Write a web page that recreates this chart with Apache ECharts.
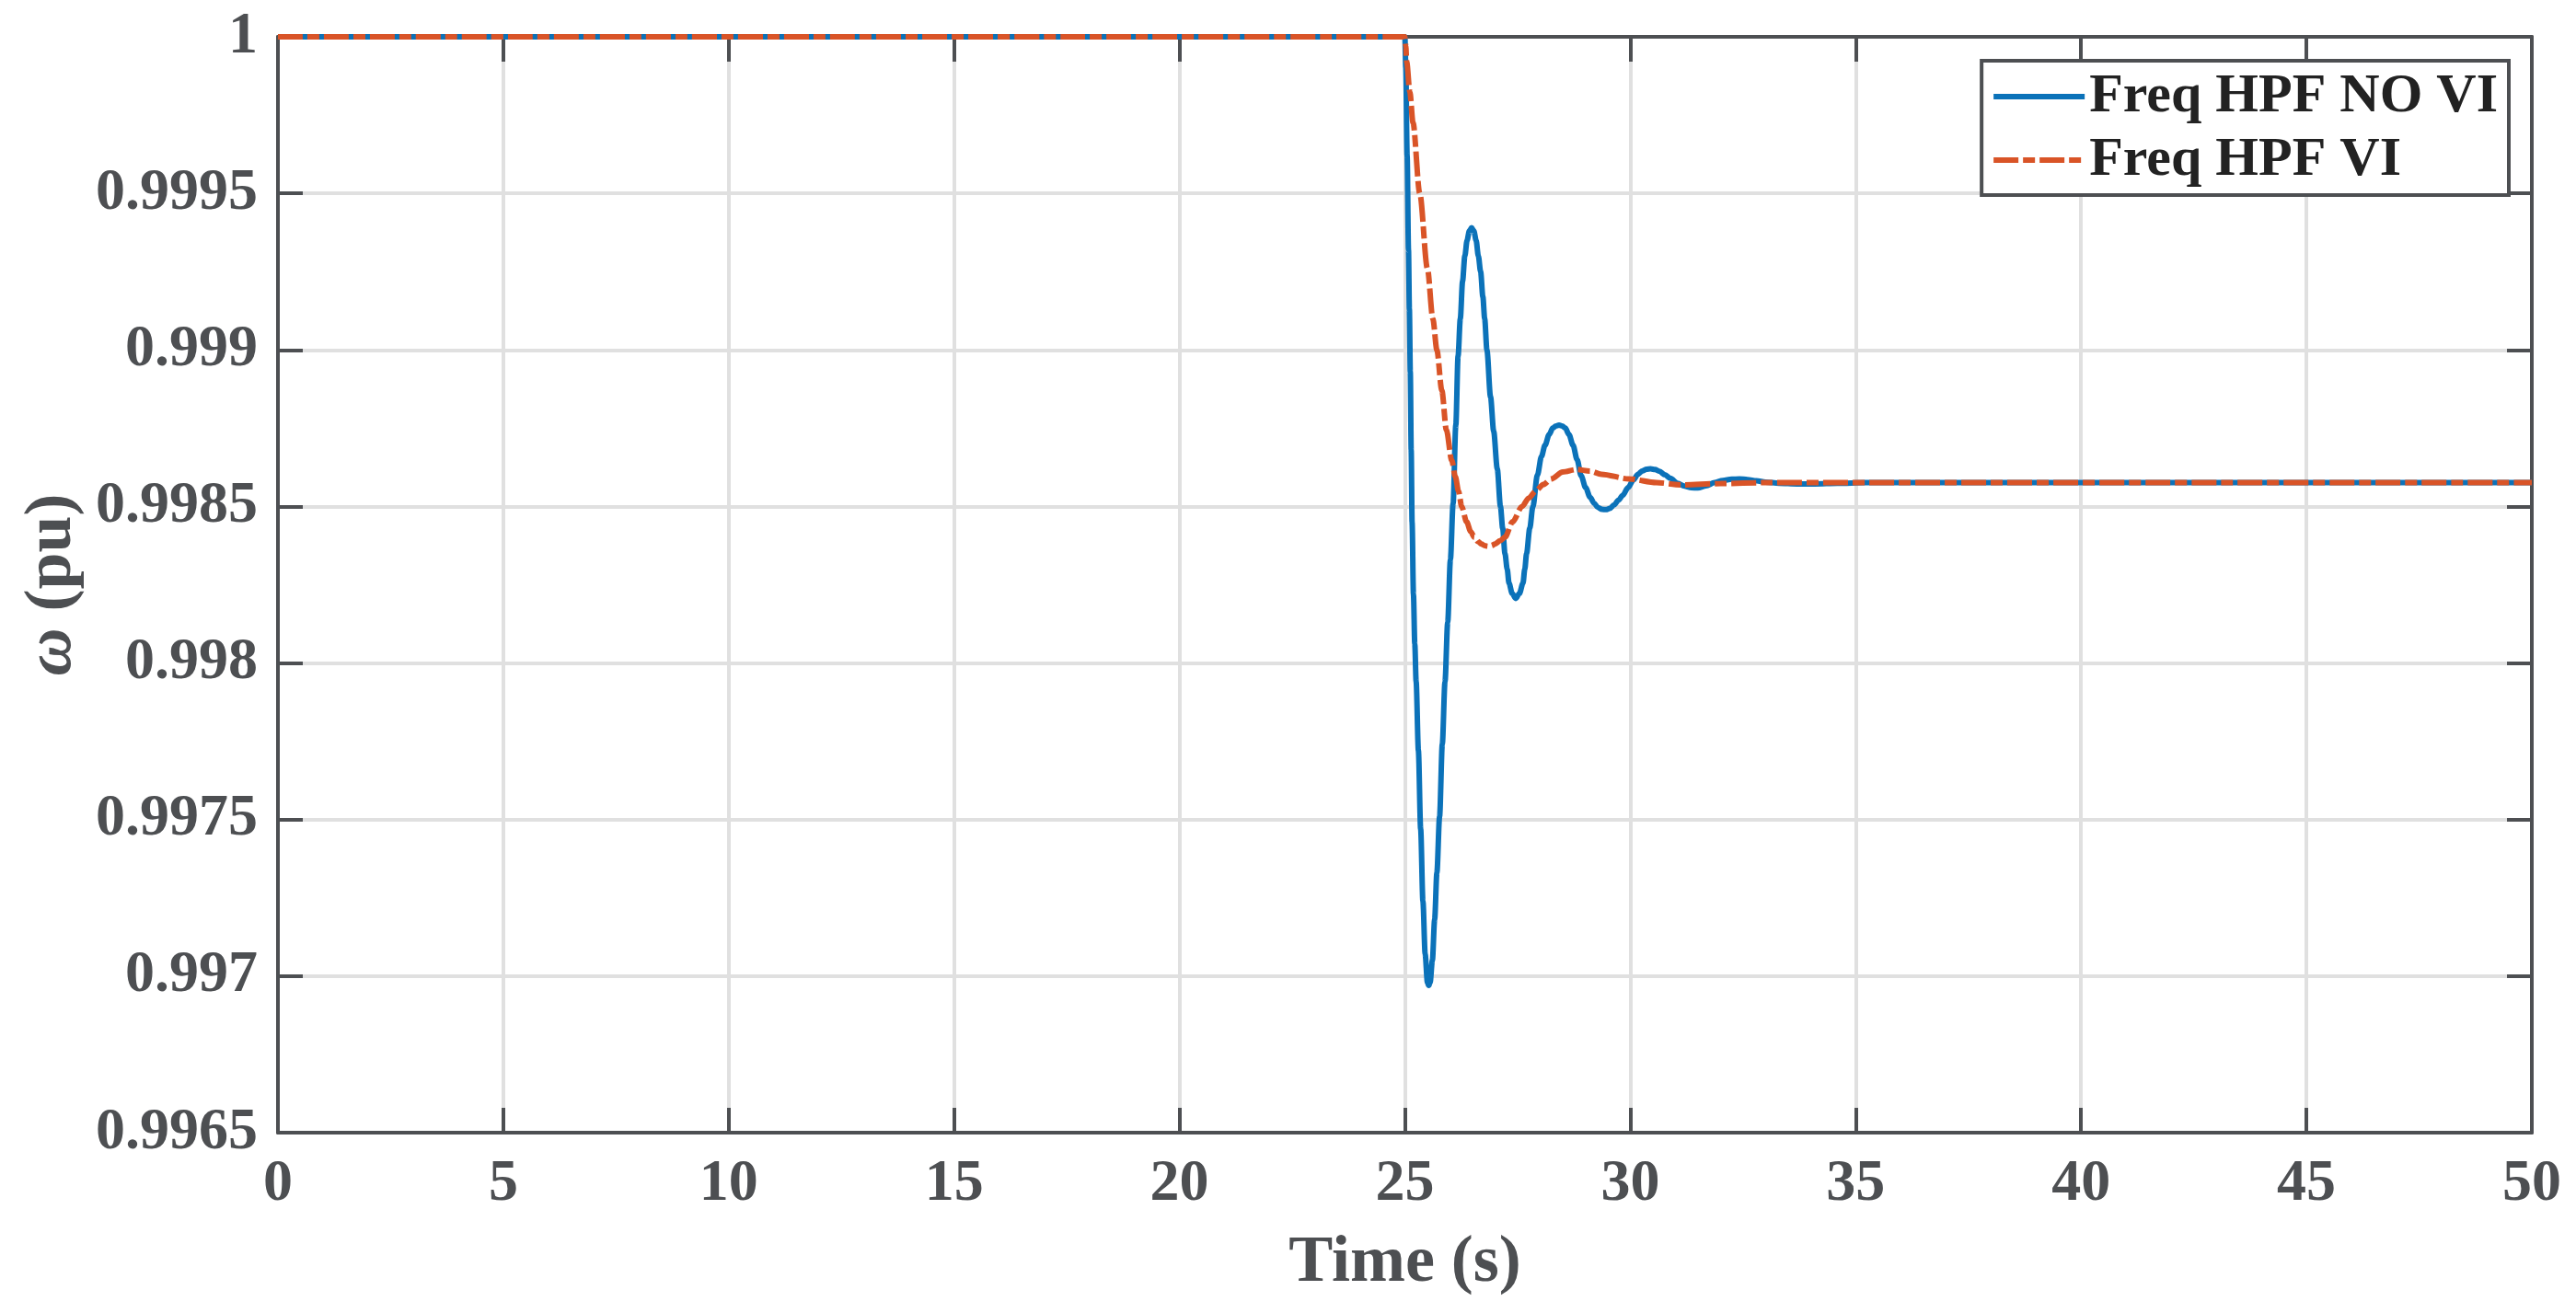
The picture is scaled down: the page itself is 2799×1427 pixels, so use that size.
<!DOCTYPE html>
<html>
<head>
<meta charset="utf-8">
<script src="https://cdn.jsdelivr.net/npm/echarts@6/dist/echarts.min.js"></script>
<style>
html,body{margin:0;padding:0;background:#fff;}
#chart{width:2799px;height:1427px;}
</style>
</head>
<body>
<div id="chart"></div>
<script>
// ---- data ----
const seriesNames = ['Freq HPF NO VI', 'Freq HPF VI'];

const noViTime = [0, 25.00, 25.02, 25.05, 25.08, 25.10, 25.12, 25.14, 25.16, 25.19, 25.22, 25.25, 25.30, 25.35, 25.40, 25.45, 25.50, 25.53, 25.56, 25.61, 25.66, 25.71, 25.77, 25.83, 25.89, 25.95, 26.01, 26.07, 26.13, 26.18, 26.23, 26.28, 26.33, 26.38, 26.43, 26.48, 26.53, 26.58, 26.63, 26.68, 26.73, 26.77, 26.82, 26.90, 26.97, 27.05, 27.12, 27.17, 27.22, 27.27, 27.31, 27.38, 27.46, 27.54, 27.62, 27.66, 27.70, 27.77, 27.84, 27.94, 28.03, 28.11, 28.20, 28.28, 28.35, 28.42, 28.49, 28.56, 28.64, 28.73, 28.82, 28.91, 29.01, 29.11, 29.20, 29.28, 29.37, 29.46, 29.55, 29.64, 29.74, 29.83, 29.95, 30.07, 30.17, 30.27, 30.36, 30.45, 30.55, 30.65, 30.77, 30.89, 31.05, 31.20, 31.35, 31.50, 31.68, 31.87, 32.05, 32.25, 32.42, 32.60, 32.80, 33.00, 33.30, 33.70, 34.10, 34.60, 35.20, 50];
const noViFreq = [1, 1, 0.99990, 0.99962, 0.99932, 0.99913, 0.99893, 0.99868, 0.99845, 0.99822, 0.99806, 0.99794, 0.99772, 0.99747, 0.99724, 0.99707, 0.99698, 0.99697, 0.99698, 0.99705, 0.99718, 0.99733, 0.99751, 0.99774, 0.99794, 0.99813, 0.99833, 0.99851, 0.99876, 0.99898, 0.99910, 0.99922, 0.99930, 0.99935, 0.99938, 0.99939, 0.99938, 0.99935, 0.99930, 0.99925, 0.99917, 0.99910, 0.99900, 0.99885, 0.99874, 0.99862, 0.99850, 0.99843, 0.99835, 0.99830, 0.998255, 0.998222, 0.998206, 0.998222, 0.998255, 0.99830, 0.99835, 0.99843, 0.99850, 0.99860, 0.99866, 0.998696, 0.99873, 0.99875, 0.998757, 0.99876, 0.998757, 0.99875, 0.99873, 0.998696, 0.99865, 0.998598, 0.99856, 0.998529, 0.99851, 0.998497, 0.998491, 0.99849, 0.998494, 0.998505, 0.99852, 0.998535, 0.99856, 0.998585, 0.998603, 0.998614, 0.998619, 0.99862, 0.998618, 0.998612, 0.998601, 0.99859, 0.998574, 0.998565, 0.99856, 0.998559, 0.998566, 0.998576, 0.998583, 0.998587, 0.998588, 0.998586, 0.998582, 0.998578, 0.998574, 0.998572, 0.998572, 0.998574, 0.998576, 0.998576];

const viTime = [0, 25.00, 25.02, 25.04, 25.11, 25.18, 25.33, 25.50, 25.62, 25.71, 25.82, 25.92, 26.04, 26.12, 26.19, 26.26, 26.37, 26.46, 26.54, 26.62, 26.70, 26.77, 26.84, 26.92, 27.00, 27.11, 27.22, 27.39, 27.60, 27.75, 27.90, 28.07, 28.25, 28.50, 28.81, 29.10, 29.36, 29.97, 30.58, 31.13, 32.00, 33.00, 50];
const viFreq = [1, 1, 0.99997, 0.99992, 0.999824, 0.999726, 0.99950, 0.99926, 0.99910, 0.99900, 0.99887, 0.998745, 0.998647, 0.998595, 0.998549, 0.99850, 0.998451, 0.99842, 0.998402, 0.998388, 0.99838, 0.998375, 0.998373, 0.998375, 0.99838, 0.99839, 0.998402, 0.998451, 0.99850, 0.998527, 0.998549, 0.99857, 0.998588, 0.99861, 0.998618, 0.998613, 0.998603, 0.998588, 0.998576, 0.998569, 0.998573, 0.998576, 0.998576];

const xMin = 0, xMax = 50, xStep = 5;
const yMin = 0.9965, yMax = 1, yStep = 0.0005;

// ---- styling ----
const axisColor = '#4d4f52';
const gridColor = '#e0e0e0';
const font = '"Liberation Serif", "Times New Roman", serif';

const zip = (a, b) => a.map((t, i) => [t, b[i]]);

const chart = echarts.init(document.getElementById('chart'), null, {renderer: 'canvas'});

const tickLabel = {fontFamily: font, fontWeight: 'bold', fontSize: 64, color: axisColor};

chart.setOption({
  animation: false,
  backgroundColor: '#fff',
  grid: {left: 302, top: 40, right: 48, bottom: 196, containLabel: false},
  legend: {
    orient: 'vertical',
    right: 73,
    top: 66,
    padding: [9, 12, 8, 10],
    itemWidth: 99,
    itemHeight: 20,
    itemGap: 9,
    backgroundColor: '#fff',
    borderColor: axisColor,
    borderWidth: 4,
    borderRadius: 0,
    itemStyle: {opacity: 0},
    lineStyle: {width: 6},
    textStyle: {fontFamily: font, fontWeight: 'bold', fontSize: 60, color: '#222'},
    data: seriesNames
  },
  xAxis: [{
    type: 'value', min: xMin, max: xMax, interval: xStep,
    name: 'Time (s)', nameLocation: 'middle', nameGap: 106,
    nameTextStyle: {fontFamily: font, fontWeight: 'bold', fontSize: 72, color: axisColor},
    axisLine: {show: true, onZero: false, lineStyle: {color: axisColor, width: 4}},
    axisTick: {show: true, inside: true, length: 27, lineStyle: {color: axisColor, width: 4}},
    axisLabel: Object.assign({margin: 24}, tickLabel),
    splitLine: {show: true, lineStyle: {color: gridColor, width: 4}}
  }, {
    type: 'value', position: 'top', min: xMin, max: xMax, interval: xStep,
    axisLine: {show: true, onZero: false, lineStyle: {color: axisColor, width: 4}},
    axisTick: {show: true, inside: true, length: 27, lineStyle: {color: axisColor, width: 4}},
    axisLabel: {show: false},
    splitLine: {show: false}
  }],
  yAxis: [{
    type: 'value', min: yMin, max: yMax, interval: yStep,
    name: '{i|ω} (pu)', nameLocation: 'middle', nameGap: 208,
    nameTextStyle: {fontFamily: font, fontWeight: 'bold', fontSize: 72, color: axisColor,
      rich: {i: {fontFamily: font, fontStyle: 'italic', fontWeight: 'bold', fontSize: 72, color: axisColor}}},
    axisLine: {show: true, onZero: false, lineStyle: {color: axisColor, width: 4}},
    axisTick: {show: true, inside: true, length: 27, lineStyle: {color: axisColor, width: 4}},
    axisLabel: Object.assign({margin: 22, formatter: v => String(Number(v.toFixed(4)))}, tickLabel),
    splitLine: {show: true, lineStyle: {color: gridColor, width: 4}}
  }, {
    type: 'value', position: 'right', min: yMin, max: yMax, interval: yStep,
    axisLine: {show: true, onZero: false, lineStyle: {color: axisColor, width: 4}},
    axisTick: {show: true, inside: true, length: 27, lineStyle: {color: axisColor, width: 4}},
    axisLabel: {show: false},
    splitLine: {show: false}
  }],
  series: [{
    name: seriesNames[0], type: 'line', xAxisIndex: 0, yAxisIndex: 0,
    data: zip(noViTime, noViFreq), showSymbol: false, symbol: 'none',
    smooth: 0.3, smoothMonotone: 'x', clip: false,
    lineStyle: {color: '#0b72b9', width: 6},
    itemStyle: {color: '#0b72b9'}
  }, {
    name: seriesNames[1], type: 'line', xAxisIndex: 0, yAxisIndex: 0,
    data: zip(viTime, viFreq), showSymbol: false, symbol: 'none',
    smooth: 0.3, smoothMonotone: 'x', clip: false,
    lineStyle: {color: '#d95427', width: 6, type: [27, 5, 13, 5]},
    itemStyle: {color: '#d95427'}
  }]
});
</script>
</body>
</html>
